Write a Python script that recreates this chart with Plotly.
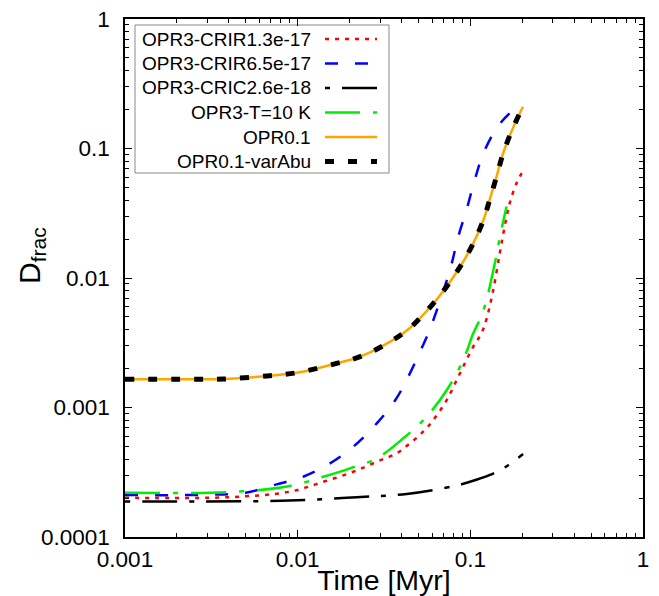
import plotly.graph_objects as go

# ---------------- data ----------------
t_opr01 = [0.001, 0.002, 0.0037, 0.0069, 0.01, 0.0168, 0.023, 0.0313, 0.0436, 0.0637,
           0.0778, 0.091, 0.104, 0.119, 0.130, 0.142, 0.155, 0.173, 0.198, 0.202]
d_opr01 = [0.00165, 0.00165, 0.00166, 0.00176, 0.00186, 0.00219, 0.00247, 0.0030, 0.0040, 0.0068,
           0.0097, 0.0134, 0.0185, 0.028, 0.041, 0.061, 0.092, 0.135, 0.20, 0.21]

t_crir65 = [0.001, 0.003, 0.005, 0.00755, 0.01076, 0.0154, 0.021, 0.0287, 0.0374, 0.0533,
            0.0596, 0.0762, 0.0851, 0.095, 0.106, 0.119, 0.142, 0.169, 0.198]
d_crir65 = [0.000211, 0.000212, 0.00022, 0.000255, 0.000292, 0.00037, 0.000498, 0.000755, 0.00118, 0.00304,
            0.00434, 0.01153, 0.0208, 0.0335, 0.0571, 0.0918, 0.143, 0.187, 0.213]

t_crir13 = [0.001, 0.004, 0.00902, 0.0141, 0.021, 0.0287, 0.0374, 0.0447, 0.0533, 0.061, 0.0729,
            0.0871, 0.104, 0.116, 0.124, 0.136, 0.148, 0.158, 0.169, 0.185, 0.202]
d_crir13 = [0.000201, 0.000203, 0.000224, 0.000267, 0.000319, 0.000381, 0.000443, 0.000528, 0.00065, 0.0008, 0.00114,
            0.00184, 0.00295, 0.00374, 0.0048, 0.0082, 0.0155, 0.0249, 0.0377, 0.0538, 0.0674]

t_t10 = [0.001, 0.004, 0.00902, 0.0141, 0.0201, 0.0287, 0.0409, 0.0558, 0.0729, 0.091, 0.104,
         0.115, 0.123, 0.136, 0.142, 0.148, 0.162]
d_t10 = [0.00022, 0.000222, 0.000248, 0.000292, 0.000339, 0.000405, 0.000578, 0.00085, 0.00136, 0.00233, 0.00374,
         0.00497, 0.00645, 0.01153, 0.0152, 0.0205, 0.0356]

t_cric = [0.001, 0.009, 0.022, 0.0428, 0.0815, 0.0995, 0.130, 0.155, 0.177, 0.202]
d_cric = [0.000188, 0.000191, 0.000203, 0.000215, 0.000248, 0.000267, 0.000302, 0.000339, 0.000381, 0.000437]

names = ["OPR3-CRIR1.3e-17", "OPR3-CRIR6.5e-17", "OPR3-CRIC2.6e-18",
         "OPR3-T=10 K", "OPR0.1", "OPR0.1-varAbu"]

x_tickvals = [0.001, 0.01, 0.1, 1]
x_ticktext = ["0.001", "0.01", "0.1", "1"]
y_tickvals = [0.0001, 0.001, 0.01, 0.1, 1]
y_ticktext = ["0.0001", "0.001", "0.01", "0.1", "1"]

x_title = "Time [Myr]"
y_title = "D<sub>frac</sub>"

# ---------------- styles ----------------
styles = {
    "OPR3-CRIR1.3e-17": dict(color="#ff0000", width=2.5, dash="4px,6px"),
    "OPR3-CRIR6.5e-17": dict(color="#0000ff", width=2.5, dash="13px,17px"),
    "OPR3-CRIC2.6e-18": dict(color="#000000", width=2.5, dash="5px,12px,35px,12px"),
    "OPR3-T=10 K": dict(color="#00ee00", width=2.5, dash="35px,13px,5px,13px"),
    "OPR0.1": dict(color="#ffa500", width=2.5, dash="solid"),
    "OPR0.1-varAbu": dict(color="#000000", width=5, dash="9px,14px"),
}
series = {
    "OPR3-CRIR1.3e-17": (t_crir13, d_crir13),
    "OPR3-CRIR6.5e-17": (t_crir65, d_crir65),
    "OPR3-CRIC2.6e-18": (t_cric, d_cric),
    "OPR3-T=10 K": (t_t10, d_t10),
    "OPR0.1": (t_opr01, d_opr01),
    "OPR0.1-varAbu": (t_opr01, d_opr01),
}

FONT = "Liberation Sans, Arial, Helvetica, sans-serif"
fig = go.Figure()
for n in names:
    x, y = series[n]
    fig.add_trace(go.Scatter(x=x, y=y, mode="lines", name=n, line=dict(**styles[n]),
                             line_shape="spline", showlegend=False))

# ---------------- custom legend (text right-aligned, sample on the right) ----------------
W_PLOT, H_PLOT = 518.0, 518.0
def px(v):
    return (v - 125) / W_PLOT
def py(v):
    return (537 - v) / H_PLOT

shapes = [dict(type="rect", xref="paper", yref="paper", x0=px(135), x1=px(389), y0=py(173), y1=py(25),
               line=dict(color="#888888", width=1), fillcolor="white", layer="below")]
annotations = []
row_y = [39, 63.5, 88, 112.5, 137, 161.5]
for n, ry in zip(names, row_y):
    st = styles[n]
    shapes.append(dict(type="line", xref="paper", yref="paper", x0=px(325), x1=px(377), y0=py(ry), y1=py(ry),
                       line=dict(color=st["color"], width=st["width"], dash=st["dash"])))
    annotations.append(dict(xref="paper", yref="paper", x=px(313), y=py(ry), text=n, showarrow=False,
                            xanchor="right", yanchor="middle", font=dict(size=19, color="black", family=FONT)))

# y-axis title placed like the reference (slightly above centre)
annotations.append(dict(xref="paper", yref="paper", x=px(31), y=py(256), text=y_title, showarrow=False,
                        textangle=-90, xanchor="center", yanchor="middle",
                        font=dict(size=30, color="black", family=FONT)))

axis_common = dict(type="log", showline=True, linecolor="black", linewidth=1.5, mirror="ticks",
                   ticks="inside", ticklen=7, tickwidth=1.2, tickcolor="black", showgrid=False,
                   zeroline=False, automargin=False, tickfont=dict(size=22.5, color="black", family=FONT),
                   minor=dict(ticks="inside", ticklen=4, tickwidth=1, tickcolor="black", dtick="D1", showgrid=False))

fig.update_layout(
    width=659, height=596,
    margin=dict(l=125, r=16, t=19, b=59),
    paper_bgcolor="white", plot_bgcolor="white",
    font=dict(family=FONT, color="black"),
    xaxis=dict(range=[-3, 0], tickvals=x_tickvals, ticktext=x_ticktext, ticklabelstandoff=1,
               title=dict(text=x_title, font=dict(size=28.5, family=FONT), standoff=0), **axis_common),
    yaxis=dict(range=[-4, 0], tickvals=y_tickvals, ticktext=y_ticktext, ticklabelstandoff=9,
               **axis_common),
    shapes=shapes, annotations=annotations, showlegend=False,
)

fig.write_html("out.html", config={"displayModeBar": False},
               post_script="document.body.style.margin='0px';")
